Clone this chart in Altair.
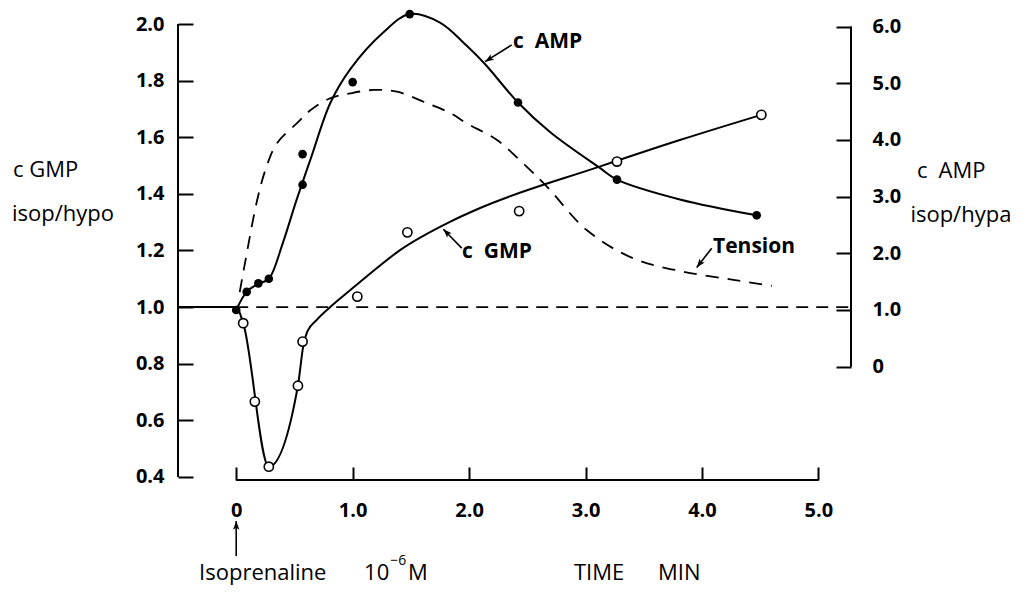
import math
import altair as alt
import pandas as pd

# ---------------- data ----------------
# cyclic AMP (right axis, isop/hypa) - filled dots
camp_pts_t = [0.0, 0.09, 0.19, 0.28, 0.57, 0.57, 1.0, 1.49, 2.42, 3.27, 4.47]
camp_pts_v = [1.0, 1.32, 1.47, 1.55, 3.21, 3.75, 5.02, 6.22, 4.66, 3.30, 2.67]
# cAMP drawn curve
camp_curve_t = [0.0, 0.09, 0.19, 0.28, 0.40, 0.51, 0.64, 0.81, 0.98, 1.26, 1.49,
                1.75, 1.98, 2.14, 2.42, 2.70, 3.12, 3.27, 3.81, 4.47]
camp_curve_v = [1.0, 1.32, 1.46, 1.55, 2.18, 2.89, 3.67, 4.66, 5.25, 5.89, 6.22,
                6.07, 5.66, 5.33, 4.66, 4.13, 3.51, 3.30, 2.95, 2.67]

# cyclic GMP (left axis, isop/hypo) - open circles
cgmp_pts_t = [0.06, 0.16, 0.28, 0.53, 0.57, 1.04, 1.47, 2.43, 3.27, 4.51]
cgmp_pts_v = [0.943, 0.666, 0.436, 0.722, 0.878, 1.037, 1.264, 1.339, 1.514, 1.679]
# cGMP drawn curve
cgmp_curve_t = [-0.5, 0.0, 0.06, 0.28, 0.53, 0.575, 0.61, 0.69, 0.81, 0.98, 1.12,
                1.41, 1.84, 2.09, 3.12, 3.81, 4.51]
cgmp_curve_v = [1.0, 1.0, 0.943, 0.436, 0.722, 0.86, 0.913, 0.954, 1.001, 1.06, 1.108,
                1.202, 1.302, 1.349, 1.496, 1.59, 1.679]

# Tension (dashed curve, plotted against the left scale)
tension_t = [0.03, 0.08, 0.18, 0.26, 0.35, 0.52, 0.64, 0.81, 0.98, 1.18, 1.38,
             1.64, 1.84, 1.98, 2.24, 2.46, 2.67, 3.01, 3.41, 3.84, 4.27, 4.60]
tension_v = [1.053, 1.166, 1.378, 1.496, 1.579, 1.649, 1.696, 1.738, 1.755, 1.767, 1.761,
             1.720, 1.685, 1.649, 1.590, 1.509, 1.425, 1.272, 1.172, 1.125, 1.096, 1.075]

# control level (ratio = 1.0)
baseline_t = [0.0, 5.28]
baseline_v = [1.0, 1.0]

# axis ticks
left_ticks = [0.4, 0.6, 0.8, 1.0, 1.2, 1.4, 1.6, 1.8, 2.0]
right_ticks = [0, 1, 2, 3, 4, 5, 6]
x_ticks = [0, 1, 2, 3, 4, 5]

# ---------------- layout ----------------
W, H = 673, 456
XDOM = [-0.5, 5.28]
LDOM = [0.389, 2.0]
RDOM = [-2.0, 6.045]
KX = W / (XDOM[1] - XDOM[0])
KY = H / (LDOM[1] - LDOM[0])
FONT = "Open Sans"

xs = alt.Scale(domain=XDOM, nice=False, zero=False)
ls = alt.Scale(domain=LDOM, nice=False, zero=False)
rs = alt.Scale(domain=RDOM, nice=False, zero=False)

LABEL_EXPR = "datum.value == 0 ? '0' : format(datum.value, '.1f')"
common_axis = dict(domain=False, grid=False, ticks=True, tickColor="black", tickWidth=2,
                   labelFont=FONT, labelFontSize=20, labelFontWeight="bold",
                   labelColor="black", labelFlush=False, labelOverlap=False,
                   labelBound=False, title=None, labelExpr=LABEL_EXPR)

left_axis = alt.Axis(orient="left", values=left_ticks, tickSize=15, offset=-15,
                     labelPadding=14, **common_axis)
right_axis = alt.Axis(orient="right", values=right_ticks, tickSize=15, offset=-15,
                      labelPadding=21, labelAlign="left", **common_axis)
x_axis = alt.Axis(orient="bottom", values=x_ticks, tickSize=13, offset=-13,
                  labelPadding=20, **common_axis)


def XQ(f):
    return alt.X(f, type="quantitative", scale=xs, axis=x_axis)


def YL(f):
    return alt.Y(f, type="quantitative", scale=ls, axis=left_axis)


def YR(f):
    return alt.Y(f, type="quantitative", scale=rs, axis=right_axis)


# axis lines
left_axis_layer = alt.Chart(pd.DataFrame({"t": [XDOM[0]], "a": [0.4], "b": [2.0]})).mark_rule(
    color="black", strokeWidth=2).encode(x=XQ("t"), y=YL("a"), y2="b")

x_axis_layer = alt.Chart(pd.DataFrame({"a": [0.0], "b": [5.0], "v": [LDOM[0]]})).mark_rule(
    color="black", strokeWidth=2).encode(x=XQ("a"), x2="b", y=YL("v"))

right_axis_layer = alt.Chart(pd.DataFrame({"t": [XDOM[1]], "a": [0.0], "b": [6.0]})).mark_rule(
    color="black", strokeWidth=2).encode(x=XQ("t"), y=YR("a"), y2="b")

# data layers
base_df = pd.DataFrame({"t0": [baseline_t[0]], "t1": [baseline_t[1]], "v": [baseline_v[0]]})
baseline_layer = alt.Chart(base_df).mark_rule(color="black", strokeWidth=1.8,
                                              strokeDash=[12, 8]).encode(
    x=XQ("t0"), x2="t1", y=YL("v"))

tension_layer = alt.Chart(pd.DataFrame({"t": tension_t, "v": tension_v})).mark_line(
    color="black", strokeWidth=1.8, strokeDash=[13, 9], interpolate="catmull-rom").encode(
    x=XQ("t"), y=YL("v"))

cgmp_line = alt.Chart(pd.DataFrame({"t": cgmp_curve_t, "v": cgmp_curve_v})).mark_line(
    color="black", strokeWidth=2, interpolate="monotone").encode(x=XQ("t"), y=YL("v"))

cgmp_points = alt.Chart(pd.DataFrame({"t": cgmp_pts_t, "v": cgmp_pts_v})).mark_point(
    shape="circle", filled=True, fill="white", stroke="black", strokeWidth=1.6,
    size=85, opacity=1).encode(x=XQ("t"), y=YL("v"))

camp_line = alt.Chart(pd.DataFrame({"t": camp_curve_t, "v": camp_curve_v})).mark_line(
    color="black", strokeWidth=2, interpolate="catmull-rom").encode(x=XQ("t"), y=YR("v"))

camp_points = alt.Chart(pd.DataFrame({"t": camp_pts_t, "v": camp_pts_v})).mark_point(
    shape="circle", filled=True, color="black", size=75, opacity=1).encode(
    x=XQ("t"), y=YR("v"))

# annotations (in data coordinates of the left scale)
bold_labels = pd.DataFrame({
    "text": ["c\u00a0 AMP", "c\u00a0 GMP", "Tension"],
    "t": [2.377, 1.939, 4.095],
    "v": [1.914, 1.172, 1.191],
})
normal_labels = pd.DataFrame({
    "text": ["c GMP", "isop/hypo", "c\u2002AMP", "isop/hypa",
             "Isoprenaline", "10", "M", "TIME", "MIN"],
    "t": [-1.917, -1.926, 5.847, 5.790, -0.319, 1.098, 1.475, 2.901, 3.622],
    "v": [1.459, 1.304, 1.456, 1.300, 0.036, 0.036, 0.036, 0.036, 0.036],
})
sup_labels = pd.DataFrame({"text": ["\u22126"], "t": [1.322], "v": [0.090]})

bold_layer = alt.Chart(bold_labels).mark_text(
    font=FONT, fontSize=21, fontWeight="bold", align="left", baseline="alphabetic",
    color="black").encode(x=XQ("t"), y=YL("v"), text="text:N")
normal_layer = alt.Chart(normal_labels).mark_text(
    font=FONT, fontSize=22, fontWeight="normal", align="left", baseline="alphabetic",
    color="black").encode(x=XQ("t"), y=YL("v"), text="text:N")
sup_layer = alt.Chart(sup_labels).mark_text(
    font=FONT, fontSize=14, fontWeight="normal", align="left", baseline="alphabetic",
    color="black").encode(x=XQ("t"), y=YL("v"), text="text:N")

arrows = pd.DataFrame({
    "t0": [2.366, 1.937, 4.084, 0.0],
    "v0": [1.926, 1.208, 1.208, 0.120],
    "t1": [2.137, 1.779, 3.955, 0.0],
    "v1": [1.867, 1.275, 1.140, 0.244],
})
arrows["ang"] = [
    math.degrees(math.atan2((r.t1 - r.t0) * KX, (r.v1 - r.v0) * KY)) % 360
    for r in arrows.itertuples()
]
arrow_lines = alt.Chart(arrows).mark_rule(color="black", strokeWidth=1.6).encode(
    x=XQ("t0"), x2="t1", y=YL("v0"), y2="v1")
ARROW = "M0,0L0.8,2.2L0,1.7L-0.8,2.2Z"
arrow_heads = alt.Chart(arrows).mark_point(
    shape=ARROW, filled=True, color="black", size=64, opacity=1, strokeWidth=0).encode(
    x=XQ("t1"), y=YL("v1"), angle=alt.Angle("ang:Q", scale=None))

left_group = alt.layer(
    left_axis_layer, x_axis_layer, baseline_layer, tension_layer, cgmp_line,
    cgmp_points, bold_layer, normal_layer, sup_layer, arrow_lines, arrow_heads)
right_group = alt.layer(right_axis_layer, camp_line, camp_points)

chart = alt.layer(left_group, right_group).resolve_scale(y="independent").properties(
    width=W, height=H,
    padding={"left": 170, "top": 16, "right": 165, "bottom": 115},
    autosize=alt.AutoSizeParams(type="none"),
).configure(background="white", font=FONT).configure_view(stroke=None)

chart.save("out.html", embed_options={"renderer": "svg", "actions": False})
